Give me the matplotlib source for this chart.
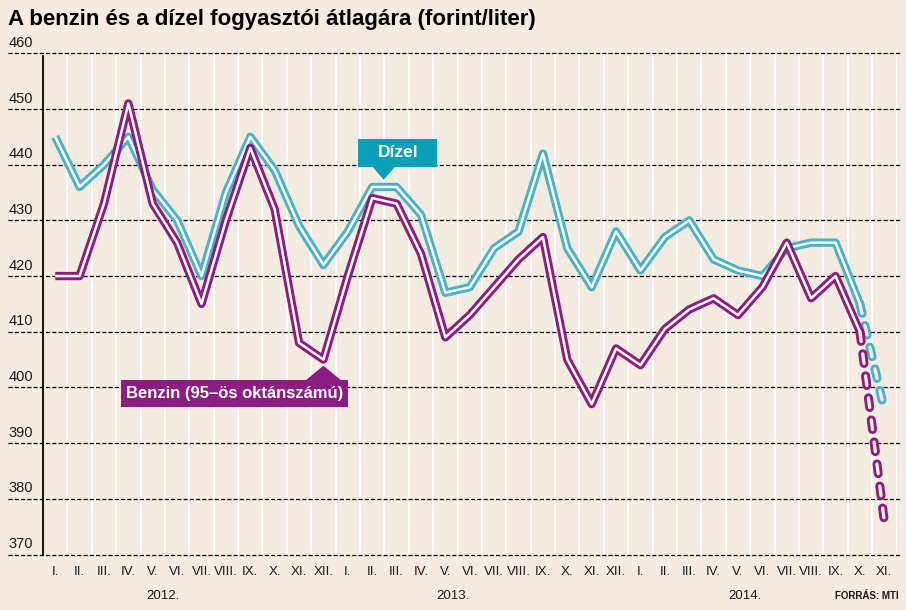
import matplotlib
matplotlib.use("Agg")
import matplotlib.pyplot as plt
from matplotlib.patches import Polygon, Rectangle

plt.rcParams["lines.scale_dashes"] = False
FONT = ["Liberation Sans", "DejaVu Sans"]

# --- data (forint/liter), 2012 Jan .. 2014 Nov ---
months = ["I.", "II.", "III.", "IV.", "V.", "VI.", "VII.", "VIII.", "IX.", "X.", "XI.", "XII."]
month_labels = months + months + months[:11]
years = ["2012.", "2013.", "2014."]
year_pos = [4.4, 16.3, 28.3]

diesel = [445, 436, 440, 445, 435.5, 430, 420, 435, 445, 439, 429, 422,
          428, 436, 436, 431, 417, 418, 425, 428, 442, 425, 418, 428,
          421, 427, 430, 423, 421, 420, 425, 426, 426, 415, 396]
benzin = [420, 420, 433, 451, 433, 426, 415, 430, 443, 432, 408, 405,
          420, 434, 433, 424, 409, 413, 418, 423, 427, 405, 397, 407,
          404, 410.5, 414, 416, 413, 418, 426, 416, 420, 410, 376]
n_solid = 34  # last point (XI. 2014) is an estimate -> dashed

yticks = [370, 380, 390, 400, 410, 420, 430, 440, 450, 460]

BG = "#F4EBE1"
TEAL = "#4AB2C5"
PURPLE = "#8A1D7D"
TEAL_BOX = "#07A0B8"
PURPLE_BOX = "#8C1D80"

fig = plt.figure(figsize=(9.06, 6.10), dpi=100, facecolor=BG)
ax = fig.add_axes([43 / 906, 1 - 554.5 / 610, (896.5 - 43) / 906, (554.5 - 53.3) / 610])
ax.set_facecolor(BG)
ax.set_xlim(-0.5, 34.5)
ax.set_ylim(370, 460)
for s in ax.spines.values():
    s.set_visible(False)
ax.set_xticks([])
ax.set_yticks([])

# white vertical separators between months
for k in range(36):
    ax.axvline(k - 0.5, color="white", lw=1.5, zorder=1)

# dashed horizontal grid, extending to the left under the labels
for v in yticks:
    ax.plot([-1.95, 34.65], [v, v], color="black", lw=0.9, ls=(0, (3, 1.5)),
            clip_on=False, zorder=2)
    ax.text(-1.9, v + 0.6, str(v), ha="left", va="bottom", fontsize=10.5,
            family=FONT, color="#1a1a1a", clip_on=False)

# left axis line
ax.plot([-0.5, -0.5], [370, 459.6], color="black", lw=1.3, clip_on=False, zorder=3)

x = list(range(len(diesel)))


def double_line(xs, ys, color, z):
    ax.plot(xs, ys, color=color, lw=6, solid_joinstyle="round", solid_capstyle="butt", zorder=z)
    ax.plot(xs, ys, color="white", lw=1.8, solid_joinstyle="round", solid_capstyle="butt", zorder=z + 0.1)


def dashed_line(xs, ys, color, z):
    ax.plot(xs, ys, color=color, lw=6.5, ls=(0, (7, 9)), dash_capstyle="round", zorder=z)
    ax.plot(xs, ys, color=BG, lw=2.4, ls=(0, (7, 9)), dash_capstyle="round", zorder=z + 0.1)


double_line(x[:n_solid], diesel[:n_solid], TEAL, 4)
double_line(x[:n_solid], benzin[:n_solid], PURPLE, 5)
dashed_line(x[n_solid - 1:], diesel[n_solid - 1:], TEAL, 4)
dashed_line(x[n_solid - 1:], benzin[n_solid - 1:], PURPLE, 5)

# label boxes
ax.add_patch(Rectangle((12.43, 439.6), 3.24, 5.0, facecolor=TEAL_BOX, edgecolor="none", zorder=6))
ax.add_patch(Polygon([(13.0, 439.7), (13.95, 439.7), (13.47, 437.3)], closed=True,
                     facecolor=TEAL_BOX, edgecolor="none", zorder=6))
ax.text(14.05, 442.1, "Dízel", ha="center", va="center", color="white", fontsize=12.5,
        fontweight="bold", family=FONT, zorder=7)

ax.add_patch(Rectangle((2.68, 396.5), 9.34, 4.8, facecolor=PURPLE_BOX, edgecolor="none", zorder=6))
ax.add_patch(Polygon([(10.25, 401.2), (11.75, 401.2), (11.0, 403.9)], closed=True,
                     facecolor=PURPLE_BOX, edgecolor="none", zorder=6))
ax.text(7.35, 398.9, "Benzin (95–ös oktánszámú)", ha="center", va="center", color="white",
        fontsize=12, fontweight="bold", family=FONT, zorder=7)

# x labels
for i, lab in enumerate(month_labels):
    ax.text(i, 366.8, lab, ha="center", va="center", fontsize=9.5, family=FONT,
            color="#1a1a1a", clip_on=False)
for p, yr in zip(year_pos, years):
    ax.text(p, 362.6, yr, ha="center", va="center", fontsize=9.5, family=FONT,
            color="#1a1a1a", clip_on=False)
ax.text(34.6, 362.6, "FORRÁS: MTI", ha="right", va="center", fontsize=7,
        fontweight="bold", family=FONT, color="#1a1a1a", clip_on=False)

fig.text(8 / 906, 1 - 20 / 610, "A benzin és a dízel fogyasztói átlagára (forint/liter)",
         ha="left", va="center", fontsize=16, fontweight="bold", family=FONT, color="black")

fig.savefig("out.png", dpi=100, facecolor=BG)
